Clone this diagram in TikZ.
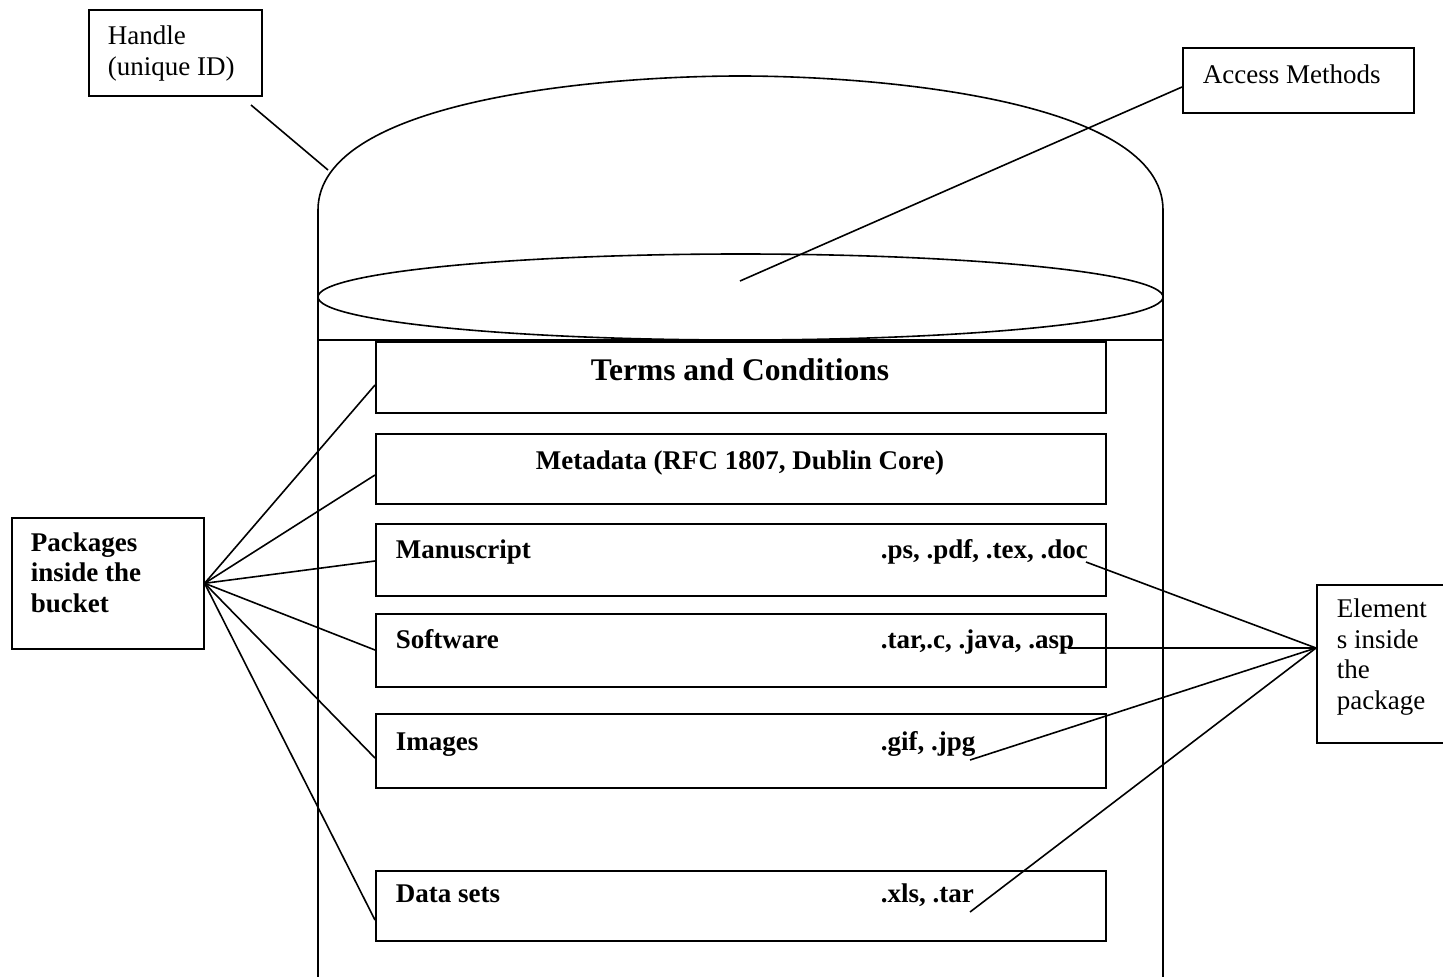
\documentclass[tikz,border=0pt]{standalone}
\usepackage{fontspec}
\setmainfont{Liberation Serif}
\begin{document}
\begin{tikzpicture}[x=1pt,y=-1pt,line width=1.6pt,
  box/.style={draw,rectangle,anchor=north west,inner sep=0pt},
  lbl/.style={anchor=base west,inner sep=0pt,align=left,font=\fontsize{27}{30.5}\selectfont},
  blbl/.style={lbl,font=\fontsize{27}{30.5}\selectfont\bfseries},
  conn/.style={line width=1.6pt}]
\useasboundingbox (0,0) rectangle (1443,977);
% bucket
\draw (318,980) -- (318,210) .. controls (318,100) and (600,76) .. (740,76)
      .. controls (880,76) and (1163,100) .. (1163,210) -- (1163,980);
\draw (318,340) -- (1163,340);
\draw (740.5,297) ellipse [x radius=422.5, y radius=43];
% outer labels
\node[box,minimum width=173pt,minimum height=86pt] (handle) at (88,9) {};
\node[lbl] (handletxt) at (107,75) {Handle\\(unique ID)};
\node[box,minimum width=231pt,minimum height=65pt] (acc) at (1182,47) {};
\node[lbl] (acctxt) at (1202,83) {Access Methods};
\node[box,minimum width=192pt,minimum height=131pt] (pk) at (11,517) {};
\node[blbl] (pktxt) at (30,612) {Packages\\inside the\\bucket};
\node[box,minimum width=132pt,minimum height=158pt] (el) at (1316,584) {};
\node[lbl] (eltxt) at (1336,709) {Element\\s inside\\the\\package};
% packages
\node[box,minimum width=730pt,minimum height=71pt] (terms) at (375,341) {};
\node[anchor=base,inner sep=0pt,font=\fontsize{31.5}{36}\selectfont\bfseries] (termstxt) at (740,380) {Terms and Conditions};
\node[box,minimum width=730pt,minimum height=70pt] (meta) at (375,433) {};
\node[anchor=base,inner sep=0pt,font=\fontsize{27}{31}\selectfont\bfseries] (metatxt) at (740,469) {Metadata (RFC 1807, Dublin Core)};
\node[box,minimum width=730pt,minimum height=72pt] (manu) at (375,523) {};
\node[blbl] (manutxt) at (395,558) {Manuscript};
\node[blbl] (manuext) at (880,558) {.ps, .pdf, .tex, .doc};
\node[box,minimum width=730pt,minimum height=73pt] (soft) at (375,613) {};
\node[blbl] (softtxt) at (395,648) {Software};
\node[blbl] (softext) at (880,648) {.tar,.c, .java, .asp};
\node[box,minimum width=730pt,minimum height=74pt] (img) at (375,713) {};
\node[blbl] (imgtxt) at (395,750) {Images};
\node[blbl] (imgext) at (880,750) {.gif, .jpg};
\node[box,minimum width=730pt,minimum height=70pt] (data) at (375,870) {};
\node[blbl] (datatxt) at (395,902) {Data sets};
\node[blbl] (dataext) at (880,902) {.xls, .tar};
% connector end points
\coordinate (h1) at (251,105);
\coordinate (h2) at (328,170);
\coordinate (a1) at (1182,87);
\coordinate (a2) at (740,281);
\coordinate (pterms) at (375,385);
\coordinate (pmeta) at (375,475);
\coordinate (pmanu) at (375,561);
\coordinate (psoft) at (375,650);
\coordinate (pimg) at (375,758);
\coordinate (pdata) at (375,920);
\coordinate (hub) at (1316,648);
\coordinate (edoc) at (1086,562);
\coordinate (easp) at (1068,648);
\coordinate (ejpg) at (970,760);
\coordinate (etar) at (970,912);
% connectors
\draw[conn] (h1) -- (h2);
\draw[conn] (a1) -- (a2);
\foreach \t in {pterms,pmeta,pmanu,psoft,pimg,pdata} \draw[conn] (pk.east) -- (\t);
\foreach \t in {edoc,easp,ejpg,etar} \draw[conn] (hub) -- (\t);
\end{tikzpicture}
\end{document}
